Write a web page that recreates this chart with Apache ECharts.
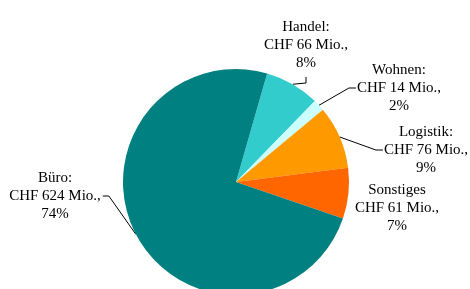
<!DOCTYPE html>
<html>
<head>
<meta charset="utf-8">
<script src="https://cdn.jsdelivr.net/npm/echarts@6/dist/echarts.min.js"></script>
<style>
  html, body { margin: 0; padding: 0; background: #fff; }
  #main { width: 470px; height: 289px; }
</style>
</head>
<body>
<div id="main"></div>
<script>
var categories = ['Handel', 'Wohnen', 'Logistik', 'Sonstiges', 'Büro'];
var labelTitles = ['Handel:', 'Wohnen:', 'Logistik:', 'Sonstiges', 'Büro:'];
var values = [66, 14, 76, 61, 624]; // CHF Mio.
var colors = ['#33cccc', '#ccffff', '#ff9900', '#ff6600', '#008080'];

// label block: centre x, top y, where the leader line joins it
var labelBoxes = [
  { x: 306, y: 18, line: 'below' },
  { x: 399, y: 61, line: 'left' },
  { x: 426, y: 123, line: 'left' },
  { x: 397, y: 181, line: 'none' },
  { x: 55, y: 169, line: 'right' }
];
var lineH = 18;

window.onload = function() {
  var myChart = echarts.init(document.getElementById('main'));

  var seriesData = values.map(function(v, i) {
    return {
      name: categories[i],
      value: v,
      itemStyle: { color: colors[i] },
      labelLine: { show: labelBoxes[i].line !== 'none' }
    };
  });

  var option = {
    backgroundColor: '#fff',
    animation: false,
    series: [
      {
        type: 'pie',
        center: [236, 182],
        radius: 113,
        startAngle: 74,
        clockwise: true,
        avoidLabelOverlap: false,
        data: seriesData,
        label: {
          show: true,
          position: 'outside',
          fontFamily: 'Liberation Serif',
          fontSize: 15,
          lineHeight: lineH,
          color: '#000',
          align: 'center',
          formatter: function(p) {
            return labelTitles[p.dataIndex] + '\nCHF ' + p.value + ' Mio.,\n' + Math.round(p.percent) + '%';
          }
        },
        labelLine: {
          show: true,
          lineStyle: { color: '#000', width: 1 }
        },
        labelLayout: function(params) {
          var b = labelBoxes[params.dataIndex];
          var w = params.labelRect.width;
          var pts = params.labelLinePoints;
          var midY = b.y + lineH * 1.5;
          var res = { x: b.x, y: b.y, align: 'center', verticalAlign: 'top' };
          if (pts) {
            var p0 = pts[0];
            if (b.line === 'below') {
              var bottom = b.y + lineH * 3;
              res.labelLinePoints = [p0, [b.x, bottom + 11], [b.x, bottom + 5]];
            } else if (b.line === 'left') {
              var left = b.x - w / 2;
              res.labelLinePoints = [p0, [left - 8, midY], [left - 1, midY]];
            } else if (b.line === 'right') {
              var right = b.x + w / 2;
              res.labelLinePoints = [p0, [right + 8, midY], [right + 2, midY]];
            }
          }
          return res;
        }
      }
    ]
  };
  myChart.setOption(option);
};
</script>
</body>
</html>
